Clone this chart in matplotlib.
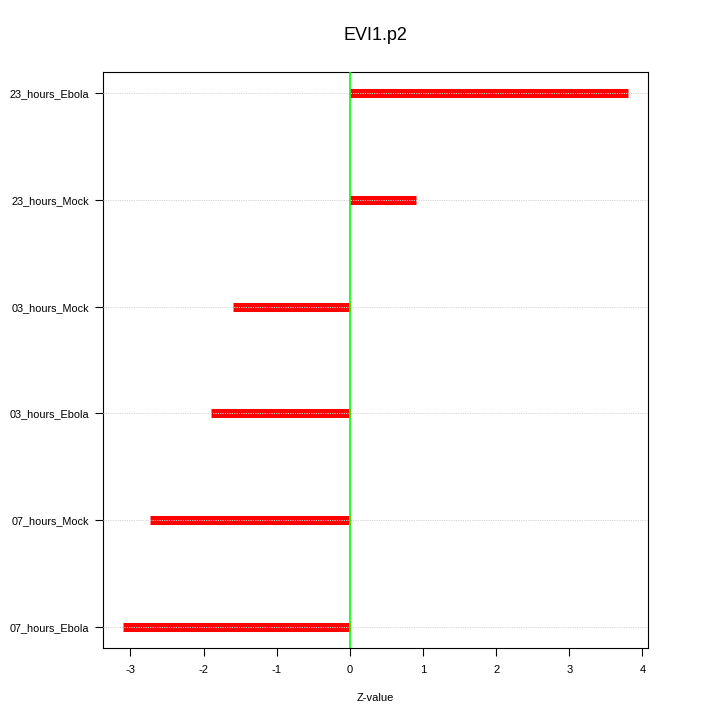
import matplotlib
matplotlib.use("Agg")
import matplotlib.pyplot as plt

categories = ["07_hours_Ebola", "07_hours_Mock", "03_hours_Ebola", "03_hours_Mock", "23_hours_Mock", "23_hours_Ebola"]
zvalues = [-3.1, -2.73, -1.9, -1.6, 0.905, 3.8]
xticks = [-3, -2, -1, 0, 1, 2, 3, 4]

plt.rcParams['font.family'] = ['Liberation Sans', 'DejaVu Sans']

fig = plt.figure(figsize=(7.2, 7.2), dpi=100)
ax = fig.add_axes([103/720, 72/720, 545/720, 576/720])

ypos = list(range(1, len(categories) + 1))
xmin, xmax = min(zvalues), max(zvalues)
pad = 0.04 * (xmax - xmin)
ax.set_xlim(xmin - pad, xmax + pad)
ax.set_ylim(1 - 0.04 * 5, len(categories) + 0.04 * 5)

ax.hlines(ypos, 0, zvalues, colors='#FF0000', linewidth=6.5, zorder=2)
ax.hlines(ypos, xmin - pad, xmax + pad, colors='#D3D3D3', linestyles=(0, (1.2, 1.2)), linewidth=0.7, zorder=3)
ax.axvline(0, color='#00FF00', linewidth=1.2, zorder=4)

ax.set_yticks(ypos)
ax.set_yticklabels(categories, fontsize=7.8)
ax.set_xticks(xticks)
ax.set_xticklabels([str(t) for t in xticks], fontsize=8)
ax.tick_params(axis='y', direction='out', length=6, width=0.8, pad=4)
ax.tick_params(axis='x', direction='out', length=6, width=0.8, pad=6)
for s in ax.spines.values():
    s.set_linewidth(0.8)

ax.set_xlabel("Z-value", fontsize=8, labelpad=13)
ax.set_title("EVI1.p2", fontsize=13, pad=23)

fig.savefig("out.png", dpi=100)
